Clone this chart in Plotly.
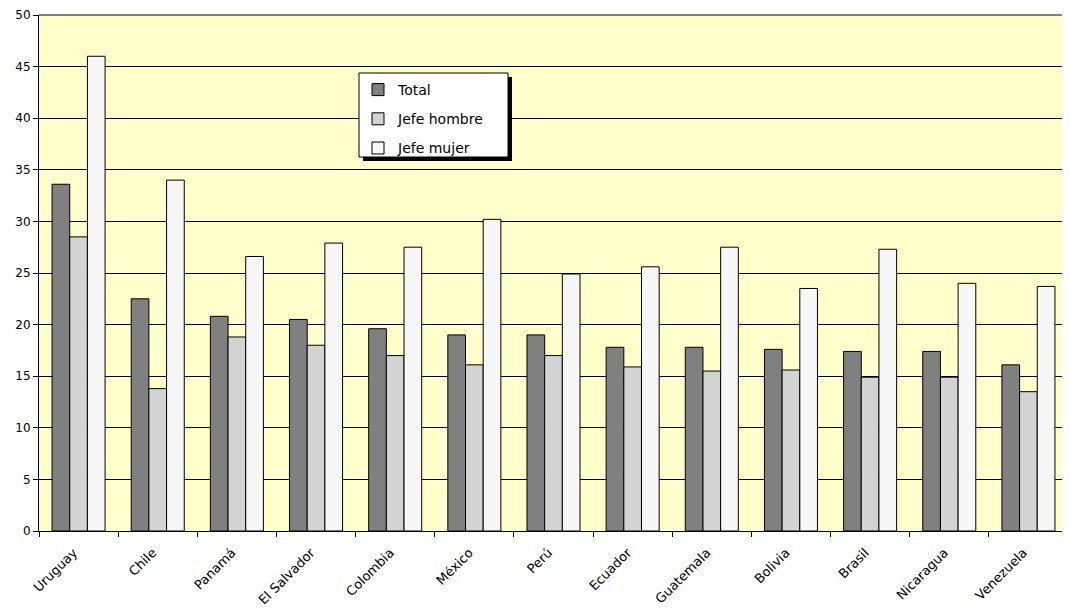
import plotly.graph_objects as go

countries = ["Uruguay", "Chile", "Panamá", "El Salvador", "Colombia", "México", "Perú",
             "Ecuador", "Guatemala", "Bolivia", "Brasil", "Nicaragua", "Venezuela"]
total = [33.6, 22.5, 20.8, 20.5, 19.6, 19.0, 19.0, 17.8, 17.8, 17.6, 17.4, 17.4, 16.1]
jefe_hombre = [28.5, 13.8, 18.8, 18.0, 17.0, 16.1, 17.0, 15.9, 15.5, 15.6, 14.9, 14.9, 13.5]
jefe_mujer = [46.0, 34.0, 26.6, 27.9, 27.5, 30.2, 24.9, 25.6, 27.5, 23.5, 27.3, 24.0, 23.7]

series = [("Total", total, "#808080"),
          ("Jefe hombre", jefe_hombre, "#D3D3D3"),
          ("Jefe mujer", jefe_mujer, "#F7F7F7")]

FONT = "DejaVu Sans, Liberation Sans, Arial, sans-serif"

fig = go.Figure()
for i, (name, vals, col) in enumerate(series):
    fig.add_trace(go.Bar(
        x=countries, y=vals, name=name, legendgroup=f"g{i}",
        marker=dict(color=col, line=dict(color="black", width=1)),
    ))

OFF = 8  # page body margin
W, H = 1070 - OFF, 608 - OFF
L, R, T, B = 39 - OFF, 2, 15 - OFF, 77
pw, ph = W - L - R, H - T - B

# legend box in page pixels
lx0, ly0, lx1, ly1 = 359, 73, 508, 157

def px_x(x):
    return (x - OFF - L) / pw

def px_y(y):
    return (OFF + H - B - y) / ph

fig.update_layout(
    width=W, height=H,
    margin=dict(l=L, r=R, t=T, b=B),
    paper_bgcolor="white",
    plot_bgcolor="#FFFFCC",
    barmode="group",
    bargap=0.33,
    bargroupgap=0,
    font=dict(family=FONT, color="black", size=12),
    showlegend=True,
    legend=dict(
        x=px_x(358), y=px_y(ly0 + 1), xanchor="left", yanchor="top",
        bgcolor="rgba(0,0,0,0)", borderwidth=0,
        font=dict(family=FONT, size=14, color="black"),
        traceorder="grouped", tracegroupgap=8,
        itemwidth=30,
    ),
    xaxis=dict(
        type="category",
        tickson="boundaries",
        ticks="outside", ticklen=5, tickcolor="black", tickwidth=1,
        showline=True, linecolor="black", linewidth=1,
        tickangle=-45,
        tickfont=dict(family=FONT, size=13, color="black"),
        ticklabelstandoff=8,
        ticklabelshift=-5,
        showgrid=False,
        automargin=False,
    ),
    yaxis=dict(
        range=[0, 50], dtick=5, tick0=0,
        ticks="outside", ticklen=5, tickcolor="black", tickwidth=1,
        showline=True, linecolor="black", linewidth=1,
        showgrid=True, gridcolor="black", gridwidth=1,
        tickfont=dict(family=FONT, size=12, color="black"),
        zeroline=False,
        automargin=False,
    ),
    shapes=[
        dict(type="line", xref="paper", yref="paper", x0=0, x1=1, y0=1, y1=1,
             line=dict(color="#808080", width=2)),
        # legend shadow
        dict(type="rect", xref="paper", yref="paper",
             x0=px_x(lx0 + 4), x1=px_x(lx1 + 4), y0=px_y(ly1 + 4), y1=px_y(ly0 + 4),
             fillcolor="black", line=dict(width=0), layer="above"),
        # legend box
        dict(type="rect", xref="paper", yref="paper",
             x0=px_x(lx0), x1=px_x(lx1), y0=px_y(ly1), y1=px_y(ly0),
             fillcolor="white", line=dict(color="black", width=1), layer="above"),
    ],
)

fig.write_html("out.html")
